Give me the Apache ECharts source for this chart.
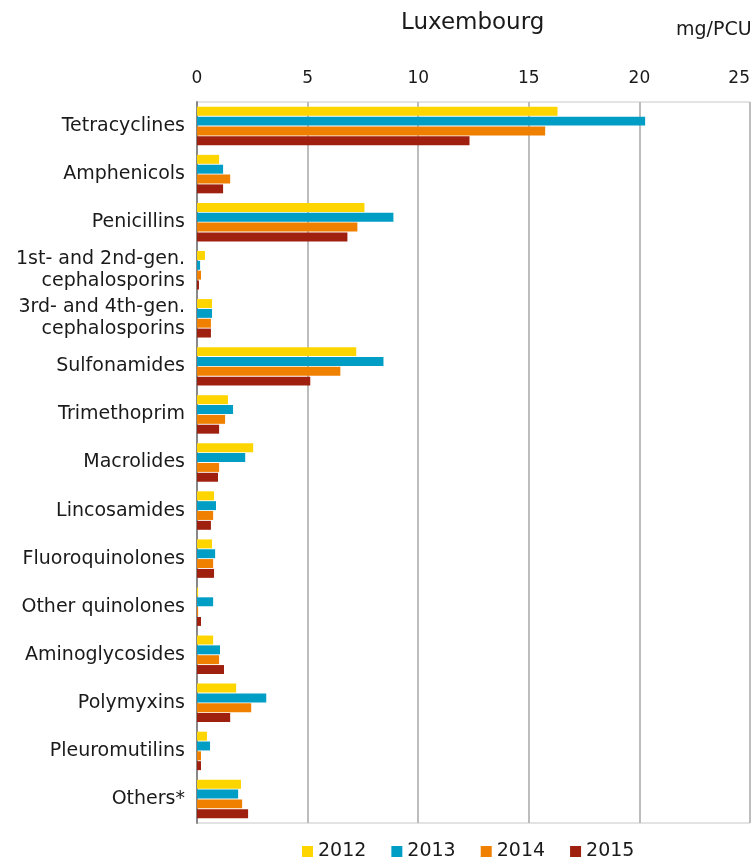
<!DOCTYPE html>
<html>
<head>
<meta charset="utf-8">
<script src="https://cdn.jsdelivr.net/npm/echarts@6/dist/echarts.min.js"></script>
<style>
  html, body { margin: 0; padding: 0; background: #fff; }
  #main { width: 755px; height: 859px; }
</style>
</head>
<body>
<div id="main"></div>
<script>
// data (mg/PCU)
var categories = ['Tetracyclines', 'Amphenicols', 'Penicillins',
  '1st- and 2nd-gen.\ncephalosporins', '3rd- and 4th-gen.\ncephalosporins',
  'Sulfonamides', 'Trimethoprim', 'Macrolides', 'Lincosamides',
  'Fluoroquinolones', 'Other quinolones', 'Aminoglycosides',
  'Polymyxins', 'Pleuromutilins', 'Others*'];
var years = ['2012', '2013', '2014', '2015'];
var v2012 = [16.3, 1.0, 7.57, 0.36, 0.68, 7.2, 1.4, 2.54, 0.77, 0.68, 0.05, 0.73, 1.77, 0.45, 1.99];
var v2013 = [20.26, 1.18, 8.88, 0.14, 0.68, 8.43, 1.63, 2.18, 0.86, 0.82, 0.73, 1.04, 3.13, 0.59, 1.86];
var v2014 = [15.74, 1.5, 7.25, 0.18, 0.63, 6.48, 1.27, 1.0, 0.73, 0.73, 0.05, 1.0, 2.45, 0.18, 2.04];
var v2015 = [12.32, 1.18, 6.8, 0.09, 0.63, 5.12, 1.0, 0.95, 0.63, 0.77, 0.18, 1.22, 1.5, 0.18, 2.31];
var colors = ['#FFD500', '#009EC5', '#F08000', '#A0200F'];

var myChart = echarts.init(document.getElementById('main'));

var values = [v2012, v2013, v2014, v2015];
var series = years.map(function (y, i) {
  return {
    name: y,
    type: 'bar',
    data: values[i],
    barGap: '10%',
    barCategoryGap: '20%',
    itemStyle: { color: colors[i] }
  };
});

var option = {
  textStyle: { fontFamily: 'DejaVu Sans' },
  title: [
    { text: 'Luxembourg', left: 401, top: 12, padding: 0,
      textStyle: { fontSize: 23, fontWeight: 'normal', color: '#1a1a1a' } },
    { text: 'mg/PCU', left: 676, top: 21, padding: 0,
      textStyle: { fontSize: 19, fontWeight: 'normal', color: '#1a1a1a' } }
  ],
  legend: {
    top: 837,
    left: 297,
    itemWidth: 11,
    itemHeight: 11,
    itemGap: 25,
    icon: 'rect',
    textStyle: { fontSize: 19, color: '#1a1a1a' },
    data: years
  },
  grid: {
    left: 197, right: 5, top: 102, bottom: 36,
    outerBoundsMode: 'none',
    containLabel: false,
    show: true, borderColor: '#c8c8c8', borderWidth: 1
  },
  xAxis: {
    type: 'value',
    position: 'top',
    min: 0, max: 25, interval: 5,
    axisLine: { show: false },
    axisTick: { show: false },
    axisLabel: { fontSize: 17, color: '#1a1a1a', margin: 15, alignMaxLabel: 'right' },
    splitLine: { lineStyle: { color: '#bdbdbd', width: 2 } }
  },
  yAxis: {
    type: 'category',
    inverse: true,
    data: categories,
    axisLine: { lineStyle: { color: '#888', width: 2 } },
    axisTick: { show: false },
    axisLabel: { fontSize: 19, color: '#1a1a1a', margin: 12, lineHeight: 22, align: 'right' }
  },
  series: series
};

myChart.setOption(option);
</script>
</body>
</html>
